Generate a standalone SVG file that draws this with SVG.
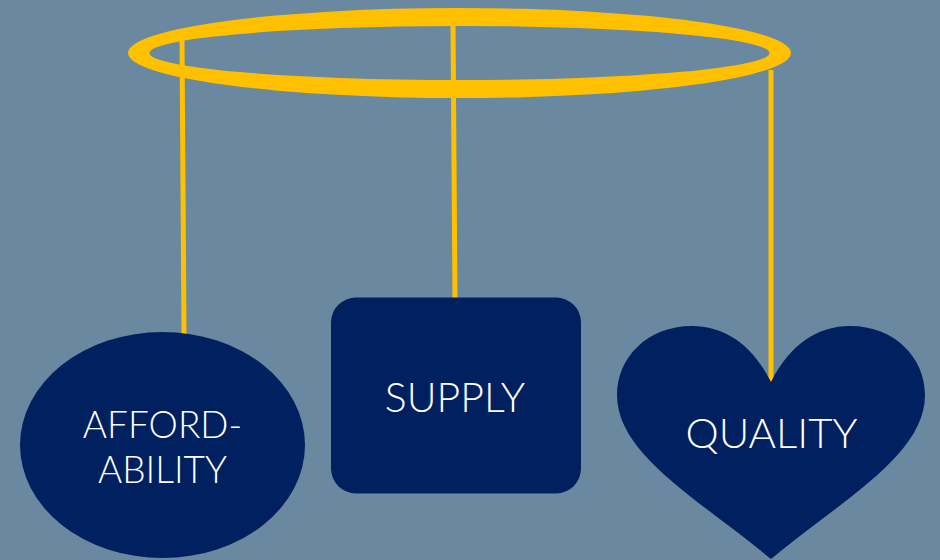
<svg xmlns="http://www.w3.org/2000/svg" width="940" height="560" viewBox="0 0 940 560">
<style>
.shape{fill:#002060}
.lbl{fill:#ffffff;font-family:Lato,"Open Sans","Liberation Sans",sans-serif;font-weight:300;text-anchor:middle}
.cord{stroke:#ffc000;stroke-width:5;fill:none}
</style>
<rect width="940" height="560" fill="#6a88a0"/>
<g id="connectors">
<line class="cord" x1="182" y1="40" x2="184" y2="334"/>
<line class="cord" x1="453" y1="24" x2="455" y2="300"/>
<line class="cord" x1="771" y1="70" x2="771" y2="384"/>
</g>
<g id="ring">
<path fill="#ffc000" fill-rule="evenodd" d="M128,53 A331.5,45 0 1,0 791,53 A331.5,45 0 1,0 128,53 Z M149.5,53 A310,27 0 1,0 769.5,53 A310,27 0 1,0 149.5,53 Z"/>
</g>
<g id="affordability">
<ellipse class="shape" cx="162.5" cy="445" rx="142.5" ry="113"/>
<text class="lbl" font-size="37" x="162.5" y="438">AFFORD-</text>
<text class="lbl" font-size="37" x="162.5" y="482.5">ABILITY</text>
</g>
<g id="supply">
<rect class="shape" x="331" y="297.5" width="250" height="196" rx="25"/>
<text class="lbl" font-size="41" x="455" y="411.5">SUPPLY</text>
</g>
<g id="quality">
<path class="shape" d="M771,382 C752,344 724,326 692,326 C647,326 617,358 617,395 C617,455 700,500 771,559 C842,500 925,455 925,395 C925,358 895,326 850,326 C818,326 790,344 771,382 Z"/>
<text class="lbl" font-size="42" x="771.5" y="448">QUALITY</text>
</g>
</svg>
